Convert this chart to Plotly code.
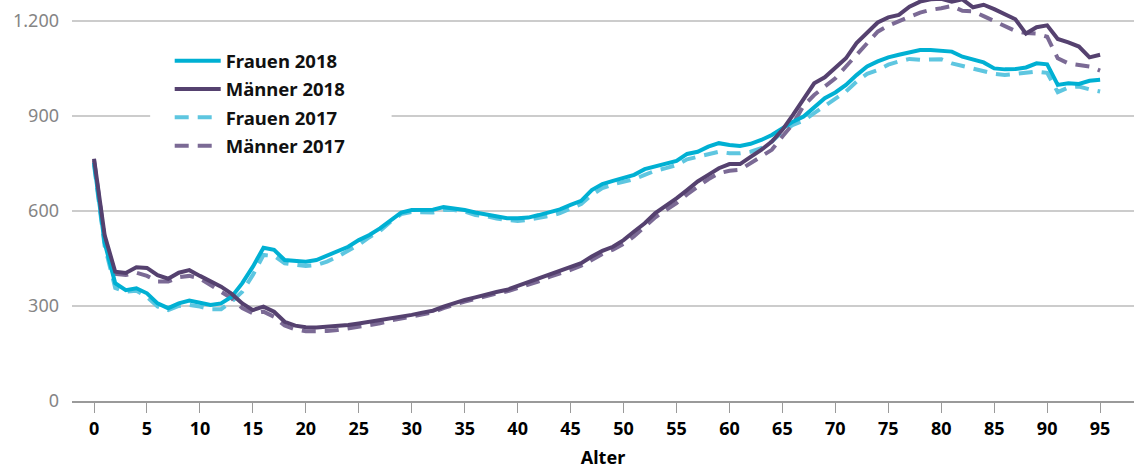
import plotly.graph_objects as go

ages = list(range(0, 96))

frauen_2018 = [752, 500, 372, 350, 356, 340, 308, 293, 308, 317,
               310, 303, 308, 329, 372, 424, 484, 477, 445, 443,
               440, 445, 458, 472, 487, 508, 524, 545, 571, 595,
               603, 605, 604, 612, 608, 603, 595, 590, 583, 577,
               577, 579, 587, 596, 605, 619, 632, 666, 685, 695,
               703, 714, 732, 740, 750, 758, 780, 787, 803, 814,
               808, 805, 812, 824, 840, 861, 882, 898, 929, 956,
               974, 998, 1029, 1056, 1072, 1085, 1093, 1100, 1108, 1108,
               1106, 1103, 1087, 1079, 1069, 1050, 1047, 1048, 1053, 1066,
               1063, 998, 1003, 1001, 1011, 1014]

maenner_2018 = [765, 524, 408, 404, 422, 420, 397, 386, 405, 413,
                395, 377, 361, 338, 308, 287, 298, 282, 250, 238,
                233, 232, 234, 235, 240, 245, 250, 256, 262, 266,
                272, 279, 285, 298, 310, 319, 327, 337, 344, 351,
                363, 372, 384, 398, 408, 421, 435, 456, 474, 487,
                508, 535, 561, 593, 616, 640, 666, 693, 714, 735,
                748, 748, 771, 793, 819, 856, 903, 951, 1003, 1022,
                1050, 1082, 1130, 1161, 1195, 1211, 1219, 1245, 1261, 1268,
                1270, 1261, 1268, 1243, 1251, 1237, 1222, 1205, 1160, 1180,
                1186, 1143, 1132, 1119, 1085, 1093]

frauen_2017 = [745, 490, 357, 345, 348, 329, 298, 287, 300, 303,
               298, 290, 290, 314, 345, 398, 461, 458, 435, 429,
               426, 429, 440, 456, 474, 493, 517, 537, 566, 590,
               597, 597, 595, 603, 603, 598, 587, 584, 576, 572,
               568, 572, 577, 584, 593, 608, 622, 651, 672, 684,
               693, 700, 714, 727, 735, 745, 763, 771, 782, 787,
               782, 782, 787, 798, 819, 850, 872, 885, 909, 932,
               956, 977, 1008, 1033, 1045, 1062, 1072, 1080, 1077, 1079,
               1079, 1066, 1058, 1050, 1040, 1033, 1029, 1033, 1035, 1040,
               1036, 975, 990, 993, 984, 977]

maenner_2017 = [760, 515, 401, 398, 405, 395, 377, 377, 391, 395,
                387, 366, 348, 324, 293, 277, 282, 266, 238, 226,
                220, 219, 221, 224, 229, 233, 239, 245, 254, 260,
                266, 274, 280, 293, 305, 314, 322, 332, 339, 346,
                357, 366, 378, 392, 402, 414, 427, 447, 464, 478,
                496, 520, 548, 580, 603, 625, 652, 678, 700, 719,
                727, 730, 750, 771, 793, 835, 875, 932, 966, 993,
                1019, 1056, 1093, 1130, 1166, 1185, 1200, 1213, 1226, 1235,
                1240, 1247, 1232, 1230, 1215, 1200, 1185, 1168, 1162, 1160,
                1150, 1082, 1066, 1061, 1056, 1043]

x_ticks = list(range(0, 96, 5))
y_ticks = [0, 300, 600, 900, 1200]

C_F18 = "#00b0d3"
C_M18 = "#55416f"
C_F17 = "#5ec6e0"
C_M17 = "#7b6a95"

FONT = "Noto Sans, Open Sans, sans-serif"

fig = go.Figure()
fig.add_trace(go.Scatter(x=ages, y=frauen_2017, name="Frauen 2017", mode="lines",
                         legendgroup="f17", legendrank=3,
                         line=dict(color=C_F17, width=4, dash="14px,9px")))
fig.add_trace(go.Scatter(x=ages, y=maenner_2017, name="Männer 2017", mode="lines",
                         legendgroup="m17", legendrank=4,
                         line=dict(color=C_M17, width=4, dash="14px,9px")))
fig.add_trace(go.Scatter(x=ages, y=frauen_2018, name="Frauen 2018", mode="lines",
                         legendgroup="f18", legendrank=1,
                         line=dict(color=C_F18, width=4)))
fig.add_trace(go.Scatter(x=ages, y=maenner_2018, name="Männer 2018", mode="lines",
                         legendgroup="m18", legendrank=2,
                         line=dict(color=C_M18, width=4)))

# white panel behind the legend (breaks the grid lines like in the original)
fig.add_shape(type="rect", xref="x", yref="y", x0=5.3, x1=28.1, y0=745, y1=1160,
              fillcolor="white", line=dict(width=0), layer="between")

fig.update_layout(
    width=1134, height=469,
    margin=dict(l=72, r=0, t=0, b=68, autoexpand=False),
    paper_bgcolor="white", plot_bgcolor="white",
    separators=",.",
    font=dict(family=FONT, size=18, color="#000000"),
    showlegend=True,
    legend=dict(x=0.092, y=0.895, xanchor="left", yanchor="top",
                bgcolor="rgba(0,0,0,0)", borderwidth=0,
                font=dict(family=FONT, size=18.5, color="#111111", weight="bold"),
                tracegroupgap=1.3, itemwidth=46),
)

fig.update_xaxes(
    range=[-2.08, 98.2], tickvals=x_ticks, ticks="outside", ticklen=10,
    tickcolor="#9a9a9a", tickwidth=1, showgrid=False, zeroline=False,
    showline=True, linecolor="#9a9a9a", linewidth=2,
    tickfont=dict(family=FONT, size=18, color="#000000", weight="bold"),
    title=dict(text="Alter", font=dict(family=FONT, size=18, color="#000000", weight="bold"),
               standoff=15),
)

fig.update_yaxes(
    range=[0, 1266], tickvals=y_ticks, tickformat=",d", showgrid=True,
    gridcolor="#cccccc", gridwidth=1.5, zeroline=False, showline=False,
    ticks="", ticklabelstandoff=12,
    tickfont=dict(family=FONT, size=18, color="#858585"),
)

fig.write_html("out.html", config={"displayModeBar": False},
               post_script="document.body.style.margin='0';document.body.style.padding='0';")
